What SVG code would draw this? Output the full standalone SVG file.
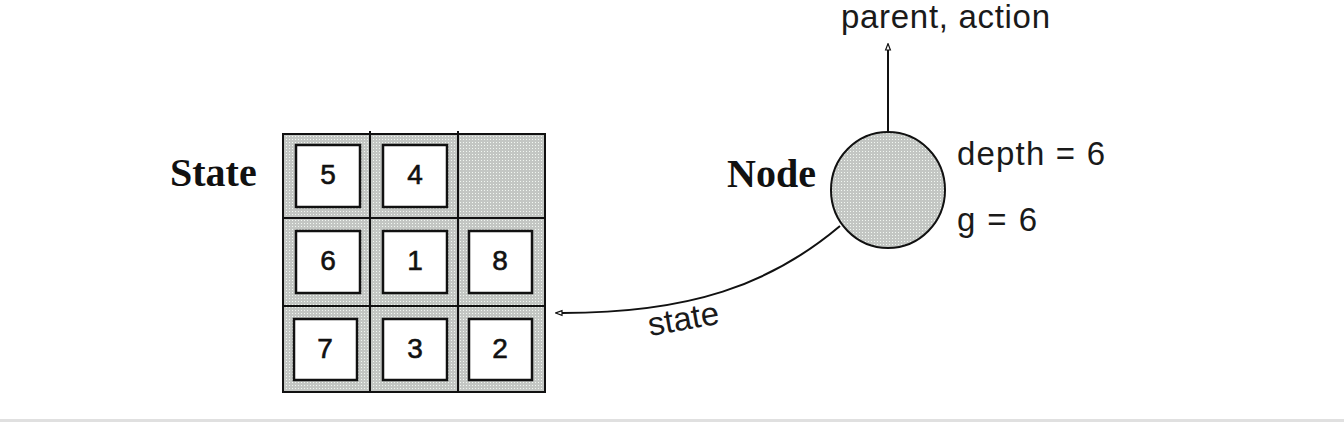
<svg xmlns="http://www.w3.org/2000/svg" width="1344" height="422" viewBox="0 0 1344 422">
<defs>
<pattern id="dots" width="3" height="3" patternUnits="userSpaceOnUse">
<rect width="3" height="3" fill="#c3c6c3"/>
<rect x="1" y="1" width="1" height="1" fill="#f2f7f2"/>
</pattern>
<marker id="arr" viewBox="0 0 10 10" refX="1" refY="5" markerWidth="8" markerHeight="8" orient="auto-start-reverse" markerUnits="userSpaceOnUse">
<path d="M9,5 L1,2 L1,8 Z" fill="#fff" stroke="#111" stroke-width="1.5"/>
</marker>
<style>
.grid{fill:url(#dots);stroke:#111;stroke-width:2}
.line{stroke:#111;stroke-width:2;fill:none}
.tile{fill:#fff;stroke:#111;stroke-width:2.5}
.num{font-family:"Liberation Sans",Arial,sans-serif;font-size:28px;fill:#111;stroke:#111;stroke-width:0.6;text-anchor:middle}
.lbl{font-family:"Liberation Sans",Arial,sans-serif;font-size:33px;fill:#1a1a1a}
.title{font-family:"Liberation Serif","Times New Roman",serif;font-size:40px;font-weight:bold;fill:#111}
</style>
</defs>
<rect width="1344" height="422" fill="#fff"/>
<rect x="0" y="419" width="1344" height="3" fill="#e0e0e0"/>

<g id="state-label"><text class="title" x="170" y="186" font-size="38">State</text></g>

<g id="state">
<rect class="grid" x="283" y="134" width="262" height="258"/>
<line class="line" x1="370" y1="131" x2="370" y2="392"/>
<line class="line" x1="458" y1="131" x2="458" y2="392"/>
<line class="line" x1="283" y1="218" x2="545" y2="218"/>
<line class="line" x1="283" y1="306" x2="545" y2="306"/>
<g id="tile5"><rect class="tile" x="296" y="145" width="64" height="62"/><text class="num" x="328" y="184">5</text></g>
<g id="tile4"><rect class="tile" x="383" y="145" width="64" height="62"/><text class="num" x="415" y="184">4</text></g>
<g id="tile6"><rect class="tile" x="296" y="231" width="64" height="62"/><text class="num" x="328" y="270">6</text></g>
<g id="tile1"><rect class="tile" x="383" y="231" width="64" height="62"/><text class="num" x="415" y="270">1</text></g>
<g id="tile8"><rect class="tile" x="469" y="231" width="63" height="62"/><text class="num" x="500" y="270">8</text></g>
<g id="tile7"><rect class="tile" x="294" y="319" width="63" height="61"/><text class="num" x="325" y="358">7</text></g>
<g id="tile3"><rect class="tile" x="383" y="319" width="64" height="61"/><text class="num" x="415" y="358">3</text></g>
<g id="tile2"><rect class="tile" x="469" y="319" width="63" height="61"/><text class="num" x="500" y="358">2</text></g>
</g>

<g id="node">
<text class="title" x="727" y="187">Node</text>
<ellipse cx="888" cy="190" rx="57" ry="58" fill="url(#dots)" stroke="#111" stroke-width="2"/>
<text class="lbl" x="957" y="165" font-size="34" textLength="148" lengthAdjust="spacing">depth = 6</text>
<text class="lbl" x="957" y="231" font-size="34" textLength="80" lengthAdjust="spacing">g = 6</text>
</g>

<g id="connectors">
<line class="line" x1="888" y1="132" x2="888" y2="50" marker-end="url(#arr)"/>
<path class="line" d="M840,226 C770,285 690,313 562,313" marker-end="url(#arr)"/>
<text class="lbl" x="841" y="28" font-size="30" textLength="209" lengthAdjust="spacing">parent, action</text>
<text class="lbl" font-size="30" transform="translate(650,336) rotate(-10)">state</text>
</g>
</svg>
